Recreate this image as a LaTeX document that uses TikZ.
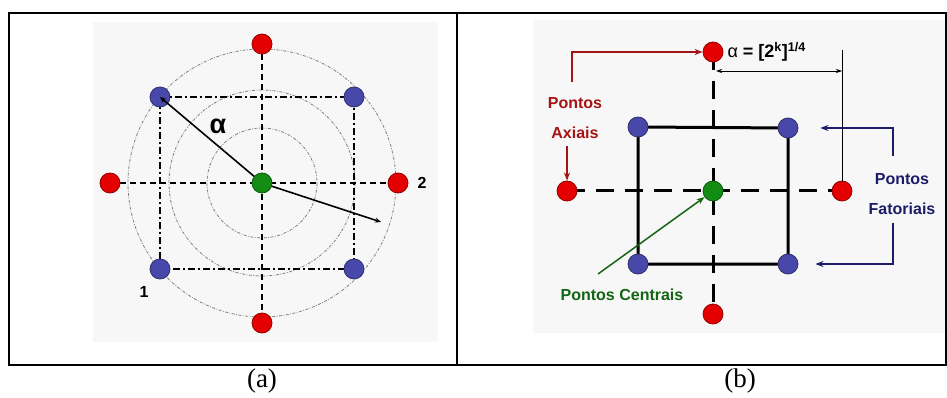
\documentclass[tikz,border=0pt]{standalone}
\usepackage{fontspec}
\setmainfont{Liberation Serif}
\setsansfont{Liberation Sans}
\usetikzlibrary{backgrounds,arrows.meta}
\definecolor{pred}{RGB}{228,0,0}
\definecolor{pblue}{RGB}{72,72,170}
\definecolor{pgreen}{RGB}{18,140,18}
\definecolor{tred}{RGB}{165,20,20}
\definecolor{tblue}{RGB}{28,28,105}
\definecolor{tgreen}{RGB}{20,100,20}
\begin{document}
\begin{tikzpicture}[x=1pt,y=-1pt,>={Stealth[length=8pt,width=6pt]},
  every node/.style={font=\sffamily\bfseries\fontsize{16}{18}\selectfont},
  ponto/.style={circle,draw,line width=0.8pt,inner sep=0pt,minimum size=20pt},
  axial/.style={ponto,fill=pred,draw=pred!65!black},
  fator/.style={ponto,fill=pblue,draw=pblue!65!black},
  centro/.style={ponto,fill=pgreen,draw=pgreen!65!black},
  circ/.style={gray,line width=0.8pt,dash pattern=on 3pt off 1.5pt on 0.8pt off 1.5pt},
  eixo/.style={line width=1.3pt,dash pattern=on 6pt off 4pt},
  quad/.style={line width=1.3pt,dash pattern=on 7pt off 3pt on 2pt off 3pt},
  eixob/.style={line width=3pt,dash pattern=on 18pt off 11pt},
  seta/.style={->,line width=1.5pt},
  lab/.style={align=center,font=\sffamily\bfseries\fontsize{16}{30}\selectfont},
  legenda/.style={font=\rmfamily\fontsize{27}{30}\selectfont}]
\useasboundingbox (0,0) rectangle (947,398);
% (a) rotatable design
\node[axial] (at) at (262,44) {};
\node[axial] (ab) at (262,323) {};
\node[axial] (al) at (110,183) {};
\node[axial] (ar) at (398,183) {};
\node[fator] (f1) at (160,97) {};
\node[fator] (f2) at (354,97) {};
\node[fator] (f3) at (160,269) {};
\node[fator] (f4) at (354,269) {};
\node[centro] (c) at (262,183) {};
\coordinate (p2) at (381,222);
\draw[->,line width=1.6pt,>={Stealth[length=6pt,width=5pt]}] (c) -- (f1.center);
\draw[->,line width=1.6pt,>={Stealth[length=6pt,width=5pt]}] (c) -- (p2);
\node[font=\sffamily\bfseries\fontsize{27}{28}\selectfont] (alfa) at (218,126) {α};
\node (n2) at (422,183) {2};
\node (n1) at (144,292) {1};
\node[legenda] (capa) at (262,381) {(a)};
% (b) central composite design
\node[axial] (rt) at (713,52) {};
\node[axial] (rb) at (713,314) {};
\node[axial] (rl) at (567,191) {};
\node[axial] (rr) at (842,191) {};
\node[fator] (b1) at (638,127) {};
\node[fator] (b2) at (788,128) {};
\node[fator] (b3) at (638,264) {};
\node[fator] (b4) at (788,264) {};
\node[centro] (cc) at (713,191) {};
\coordinate (dm) at (842,50);
\coordinate (d1) at (716,71);
\coordinate (d2) at (842,71);
\draw[line width=0.7pt] (dm) -- (rr.north);
\draw[<->,line width=0.7pt,>={Stealth[length=6pt,width=4pt]}] (d1) -- (d2);
\node[anchor=west,font=\sffamily\bfseries\fontsize{18}{20}\selectfont] (form) at (724,52)
  {{\mdseries α} = [2\textsuperscript{k}]\textsuperscript{1/4}};
\node[lab,text=tred] (pax) at (575,118) {Pontos\\Axiais};
\coordinate (sa) at (572,82);
\coordinate (sb) at (567,146);
\draw[seta,tred] (sa) |- (rt);
\draw[seta,tred] (sb) -- (rl.north);
\node[lab,text=tblue] (pft) at (902,194) {Pontos\\Fatoriais};
\coordinate (sf1) at (893,156);
\coordinate (sf2) at (893,223);
\draw[seta,tblue,shorten >=22pt] (sf1) |- (b2);
\draw[seta,tblue,shorten >=17pt] (sf2) |- (b4);
\node[text=tgreen] (pce) at (622,295) {Pontos Centrais};
\coordinate (sc) at (598,274);
\draw[seta,tgreen] (sc) -- (cc);
\node[legenda] (capb) at (740,381) {(b)};
\begin{scope}[on background layer]
  \fill[black!3] (93,22) rectangle (438,342);
  \fill[black!3] (533,20) rectangle (945,333);
  \draw[line width=1.3pt] (9,13) rectangle (946,365);
  \draw[line width=1.3pt] (457,13) -- (457,365);
  \foreach \r in {134,93,55}
    \draw[circ] (c.center) circle (\r);
  \draw[eixo] (at.center) -- (ab.center);
  \draw[eixo] (al.center) -- (ar.center);
  \draw[quad] (f1.center) -- (f2.center) -- (f4.center) -- (f3.center) -- cycle;
  \draw[eixob] (rt.center) -- (rb.center);
  \draw[eixob] (rl.center) -- (rr.center);
  \draw[line width=3pt] (b1.center) -- (b2.center) -- (b4.center) -- (b3.center) -- cycle;
\end{scope}
\end{tikzpicture}
\end{document}
